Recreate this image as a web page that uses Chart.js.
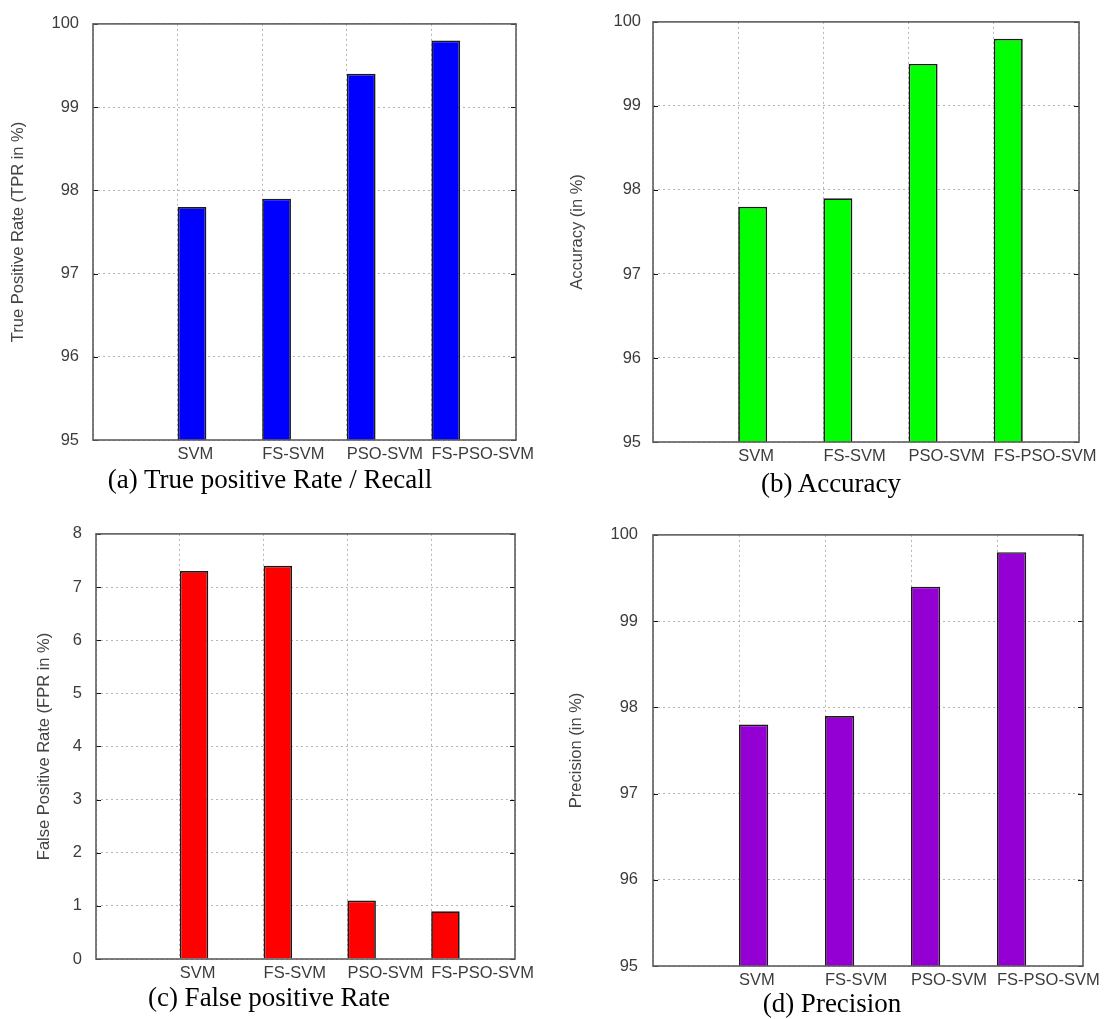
<!DOCTYPE html>
<html>
<head>
<meta charset="utf-8">
<script src="https://cdn.jsdelivr.net/npm/chart.js@4.4.0/dist/chart.umd.min.js"></script>
<style>
    body {
        margin: 0;
        background: #fff;
    }

    #page {
        position: relative;
        width: 1104px;
        height: 1019px;
        overflow: hidden;
    }

    #page canvas {
        position: absolute;
    }

    .caption {
        position: absolute;
        width: 400px;
        text-align: center;
        font-family: "Liberation Serif", "Times New Roman", serif;
        font-size: 27px;
        line-height: 30px;
        color: #000;
        white-space: nowrap;
    }
</style>
</head>
<body>
<div id="page">
    <canvas id="tpr" width="550" height="510" style="left:0;top:0"></canvas>
    <canvas id="acc" width="554" height="510" style="left:550px;top:0"></canvas>
    <canvas id="fpr" width="550" height="509" style="left:0;top:510px"></canvas>
    <canvas id="prec" width="554" height="509" style="left:550px;top:510px"></canvas>

    <div class="caption" style="left:70px;top:464px">(a) True positive Rate / Recall</div>
    <div class="caption" style="left:631px;top:468px">(b) Accuracy</div>
    <div class="caption" style="left:69px;top:982px">(c) False positive Rate</div>
    <div class="caption" style="left:632px;top:988px">(d) Precision</div>
</div>

<script>
const methods = ['SVM', 'FS-SVM', 'PSO-SVM', 'FS-PSO-SVM'];

const tprValues = [97.8, 97.9, 99.4, 99.8];
const accuracyValues = [97.8, 97.9, 99.5, 99.8];
const fprValues = [7.3, 7.4, 1.1, 0.9];
const precisionValues = [97.8, 97.9, 99.4, 99.8];

const percentTicks = [95, 96, 97, 98, 99, 100];
const fprTicks = [0, 1, 2, 3, 4, 5, 6, 7, 8];

// gnuplot style: empty slot before the first method and after the last one
const slotLabels = [''].concat(methods, ['']);

const labelFont = { family: '"Liberation Sans", Arial, sans-serif', size: 16.5 };

// frame round the plot area plus small inward tics on the y axis
const framePlugin = {
    id: 'frame',
    afterDraw(chart) {
        const { ctx, chartArea: a, scales } = chart;
        ctx.save();
        ctx.strokeStyle = '#111';
        ctx.lineWidth = 1.2;
        scales.y.ticks.forEach(t => {
            const py = Math.round(scales.y.getPixelForValue(t.value)) + 0.5;
            ctx.beginPath();
            ctx.moveTo(a.left, py);
            ctx.lineTo(a.left + 5, py);
            ctx.moveTo(a.right, py);
            ctx.lineTo(a.right - 5, py);
            ctx.stroke();
        });
        ctx.strokeStyle = '#5e5e5e';
        ctx.lineWidth = 1.6;
        ctx.strokeRect(a.left, a.top, a.right - a.left, a.bottom - a.top);
        ctx.restore();
    }
};

function makePanel(id, values, ticks, color, yTitle, box) {
    const ctx = document.getElementById(id).getContext('2d');
    new Chart(ctx, {
        type: 'bar',
        data: {
            labels: slotLabels,
            datasets: [
                {
                    // empty group member, pushes the real bar right of its tic
                    label: '',
                    data: [],
                    backgroundColor: 'rgba(0,0,0,0)'
                },
                {
                    label: yTitle,
                    data: [null].concat(values, [null]),
                    backgroundColor: color,
                    borderColor: '#1a1a1a',
                    borderWidth: 1.7
                }
            ]
        },
        options: {
            responsive: false,
            animation: false,
            datasets: {
                bar: {
                    categoryPercentage: 0.68,
                    barPercentage: 1
                }
            },
            layout: {
                padding: { left: 0, top: box.top, right: box.right, bottom: box.bottom }
            },
            plugins: {
                legend: { display: false },
                tooltip: { enabled: false }
            },
            scales: {
                x: {
                    type: 'category',
                    offset: false,
                    afterFit: s => { s.height = 30; },
                    grid: {
                        offset: false,
                        color: '#b5b5b5',
                        lineWidth: 1,
                        drawTicks: false
                    },
                    border: { display: false, dash: [2, 3] },
                    ticks: {
                        align: 'start',
                        autoSkip: false,
                        maxRotation: 0,
                        minRotation: 0,
                        padding: 5,
                        color: '#3c3c3c',
                        font: labelFont
                    }
                },
                y: {
                    min: ticks[0],
                    max: ticks[ticks.length - 1],
                    afterFit: s => { s.width = box.left; },
                    grid: {
                        color: '#b5b5b5',
                        lineWidth: 1,
                        drawTicks: false
                    },
                    border: { display: false, dash: [2, 3] },
                    ticks: {
                        stepSize: 1,
                        padding: box.tickPad,
                        color: '#3c3c3c',
                        font: labelFont
                    },
                    title: {
                        display: true,
                        text: yTitle,
                        color: '#444',
                        padding: { top: box.titlePad, bottom: 0 },
                        font: labelFont
                    }
                }
            }
        },
        plugins: [framePlugin]
    });
}

makePanel('tpr', tprValues, percentTicks, '#0000ff', 'True Positive Rate (TPR in %)',
    { left: 93, top: 15, right: 34, bottom: 40, tickPad: 14, titlePad: 9 });
makePanel('acc', accuracyValues, percentTicks, '#00ff00', 'Accuracy (in %)',
    { left: 103, top: 15, right: 25, bottom: 38, tickPad: 12, titlePad: 18 });
makePanel('fpr', fprValues, fprTicks, '#ff0000', 'False Positive Rate (FPR in %)',
    { left: 96, top: 21, right: 35, bottom: 30, tickPad: 14, titlePad: 35 });
makePanel('prec', precisionValues, percentTicks, '#9400d3', 'Precision (in %)',
    { left: 103, top: 23, right: 21, bottom: 23, tickPad: 15, titlePad: 17 });
</script>
</body>
</html>
